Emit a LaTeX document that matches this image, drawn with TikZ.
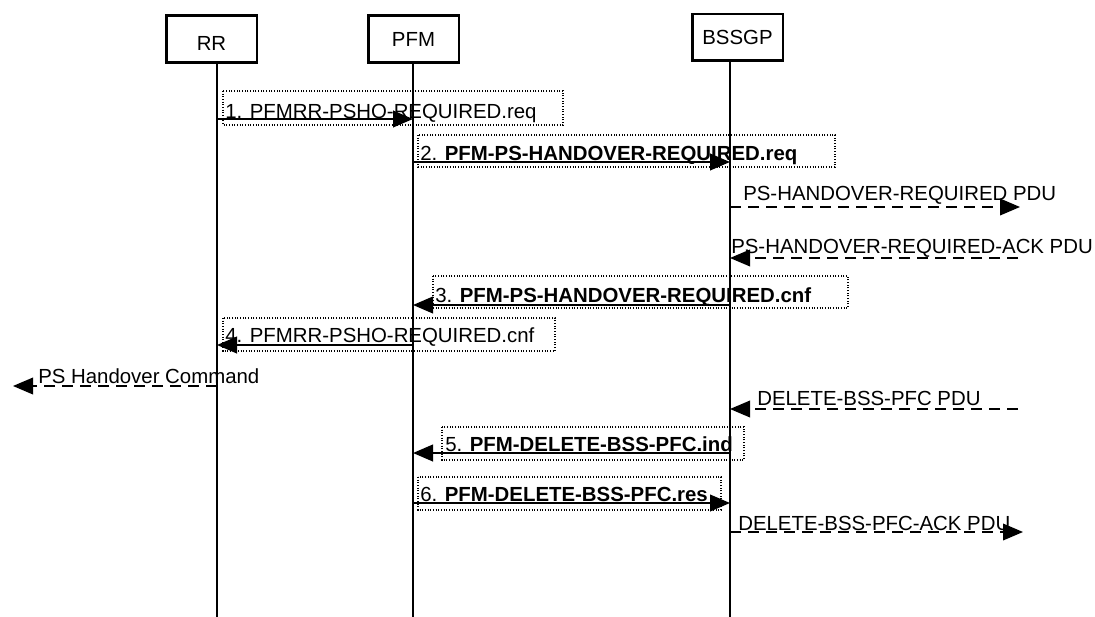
\documentclass[tikz,border=0pt]{standalone}
\usepackage{fontspec}
\setmainfont{Liberation Sans}
\usetikzlibrary{arrows.meta}
\begin{document}
\begin{tikzpicture}[x=0.75pt,y=-0.75pt,
  ent/.style={draw,line width=2pt,minimum width=68pt,minimum height=35pt,inner sep=0pt,font=\fontsize{15.3}{18}\selectfont},
  life/.style={line width=1.7pt},
  msg/.style={line width=1.5pt,-{Triangle[length=15pt,width=12.5pt]}},
  pdu/.style={line width=1.1pt,dash pattern=on 8.5pt off 5pt,-{Triangle[length=15pt,width=12.5pt]}},
  dotbox/.style={line width=0.8pt,dash pattern=on 0.8pt off 1.2pt},
  lbl/.style={anchor=base west,inner sep=0pt,font=\fontsize{15.3}{18}\selectfont}]
\useasboundingbox (0,0) rectangle (1095,617);
% entities
\node[ent] (RR) at (211.5,39) {\raisebox{-3pt}[\height][\depth]{RR}};
\node[ent] (PFM) at (413.5,39) {PFM};
\node[ent] (BSSGP) at (737.5,37.5) {BSSGP};
% lifelines
\coordinate (rrT) at (217,63); \coordinate (rrB) at (217,617);
\coordinate (pfT) at (413,63);   \coordinate (pfB) at (413,617);
\coordinate (bsT) at (730,62);   \coordinate (bsB) at (730,617);
\draw[life] (rrT) -- (rrB);
\draw[life] (pfT) -- (pfB);
\draw[life] (bsT) -- (bsB);
% message end points
\coordinate (r1) at (217,119); \coordinate (p1) at (413,119);
\coordinate (p2) at (413,162);   \coordinate (b2) at (730,162);
\coordinate (b3) at (730,207);   \coordinate (e3) at (1020,207);
\coordinate (e4) at (1018,258);  \coordinate (b4) at (730,258);
\coordinate (b5) at (730,305);   \coordinate (p5) at (413,305);
\coordinate (p6) at (413,345);   \coordinate (r6) at (217,345);
\coordinate (r7) at (217,386); \coordinate (e7) at (13,386);
\coordinate (e8) at (1018,409);  \coordinate (b8) at (730,409);
\coordinate (b9) at (730,453);   \coordinate (p9) at (413,453);
\coordinate (p10) at (413,503);  \coordinate (b10) at (730,503);
\coordinate (b11) at (730,532);  \coordinate (e11) at (1023,532);
% dotted label frames
\draw[dotbox] (223,91) rectangle (563,125);
\draw[dotbox] (418,135) rectangle (835,167);
\draw[dotbox] (433,276) rectangle (848,308);
\draw[dotbox] (223,318) rectangle (555,351);
\draw[dotbox] (442,427) rectangle (744,460);
\draw[dotbox] (418,477) rectangle (721,510);
% arrows
\draw[msg] (r1) -- (p1);
\draw[msg] (p2) -- (b2);
\draw[pdu] (b3) -- (e3);
\draw[pdu] (e4) -- (b4);
\draw[msg] (b5) -- (p5);
\draw[msg] (p6) -- (r6);
\draw[pdu] (r7) -- (e7);
\draw[pdu] (e8) -- (b8);
\draw[msg] (b9) -- (p9);
\draw[msg] (p10) -- (b10);
\draw[pdu] (b11) -- (e11);
% labels
\node[lbl] (t1) at (225,118) {1. PFMRR-PSHO-REQUIRED.req};
\node[lbl] (t2) at (420,160) {2. \textbf{PFM-PS-HANDOVER-REQUIRED.req}};
\node[lbl] (t3) at (743,200) {PS-HANDOVER-REQUIRED PDU};
\node[lbl] (t4) at (731,253) {PS-HANDOVER-REQUIRED-ACK PDU};
\node[lbl] (t5) at (435,302) {3. \textbf{PFM-PS-HANDOVER-REQUIRED.cnf}};
\node[lbl] (t6) at (225,342) {4. PFMRR-PSHO-REQUIRED.cnf};
\node[lbl] (t7) at (38,383) {PS Handover Command};
\node[lbl] (t8) at (757,405) {DELETE-BSS-PFC PDU};
\node[lbl] (t9) at (445,451) {5. \textbf{PFM-DELETE-BSS-PFC.ind}};
\node[lbl] (t10) at (420,501) {6. \textbf{PFM-DELETE-BSS-PFC.res}};
\node[lbl] (t11) at (738,530) {DELETE-BSS-PFC-ACK PDU};
\end{tikzpicture}
\end{document}
